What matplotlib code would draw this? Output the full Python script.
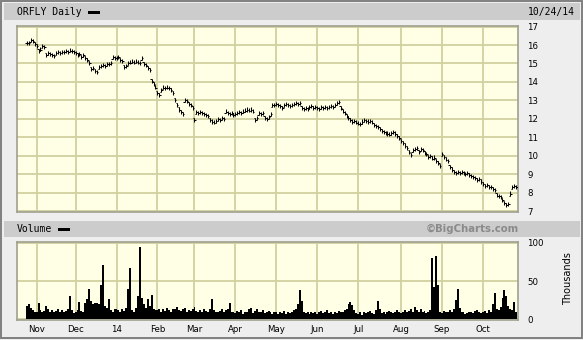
import numpy as np
import pandas as pd
import matplotlib
matplotlib.use('Agg')
import matplotlib.pyplot as plt
from matplotlib.collections import LineCollection
from matplotlib.patches import Rectangle

# ---------------- data ----------------
start_date = '2013-10-25'
end_date = '2014-10-24'
holidays = ['2013-11-28', '2013-12-25', '2014-01-01', '2014-01-20', '2014-02-17',
            '2014-04-18', '2014-05-26', '2014-07-04', '2014-09-01']

close_oct13 = [16.10, 16.12, 16.25, 16.22, 16.05]
close_nov = [15.95, 15.65, 15.75, 15.95, 15.90, 15.45, 15.55, 15.50, 15.45, 15.40,
             15.55, 15.60, 15.55, 15.60, 15.60, 15.65, 15.60, 15.70, 15.65, 15.60]
close_dec = [15.55, 15.45, 15.50, 15.35, 15.45, 15.30, 15.20, 15.00, 14.70, 14.75,
             14.60, 14.55, 14.80, 14.85, 14.90, 14.85, 14.95, 14.95, 15.00, 15.35, 15.30]
close_jan = [15.30, 15.35, 15.20, 15.15, 14.80, 14.85, 15.00, 15.05, 15.10, 15.05,
             15.10, 15.05, 15.00, 15.30, 14.95, 14.90, 14.75, 14.65, 14.05, 13.90, 13.70]
close_feb = [13.40, 13.30, 13.55, 13.70, 13.65, 13.70, 13.65, 13.55, 13.40, 13.00,
             12.75, 12.50, 12.35, 12.25, 13.00, 12.95, 12.80, 12.75, 12.60]
close_mar = [11.95, 12.35, 12.30, 12.35, 12.30, 12.25, 12.20, 12.15, 11.95, 11.85,
             11.80, 11.90, 12.00, 11.95, 12.05, 12.00, 12.40, 12.30, 12.25, 12.30, 12.20]
close_apr = [12.25, 12.30, 12.35, 12.30, 12.40, 12.45, 12.50, 12.45, 12.50, 12.40,
             11.95, 12.05, 12.30, 12.25, 12.30, 12.05, 12.00, 12.10, 12.27, 12.75, 12.75]
close_may = [12.80, 12.75, 12.70, 12.60, 12.75, 12.80, 12.75, 12.70, 12.75, 12.80,
             12.85, 12.80, 12.85, 12.60, 12.55, 12.60, 12.55, 12.65, 12.70, 12.60, 12.65]
close_jun = [12.60, 12.55, 12.65, 12.60, 12.65, 12.60, 12.65, 12.70, 12.65, 12.75,
             12.85, 12.90, 12.60, 12.40, 12.30, 12.15, 12.05, 11.95, 11.85, 11.90, 11.80]
close_jul = [11.75, 11.70, 11.85, 11.95, 11.90, 11.85, 11.90, 11.80, 11.65, 11.60, 11.55,
             11.45, 11.35, 11.30, 11.25, 11.20, 11.15, 11.25, 11.30, 11.20, 11.05, 10.95]
close_aug = [10.80, 10.70, 10.55, 10.40, 10.20, 10.05, 10.30, 10.35, 10.40, 10.20,
             10.35, 10.30, 10.15, 10.10, 9.95, 10.00, 9.85, 9.90, 9.70, 9.60, 9.45]
close_sep = [10.10, 9.95, 9.80, 9.70, 9.40, 9.25, 9.10, 9.05, 9.10, 9.05,
             9.10, 9.05, 9.00, 9.05, 8.95, 8.90, 8.85, 8.80, 8.70, 8.75, 8.60]
close_oct14 = [8.45, 8.35, 8.40, 8.30, 8.30, 8.20, 8.15, 7.85, 7.80, 7.75,
               7.60, 7.45, 7.35, 7.40, 7.95, 8.30, 8.35, 8.30]

vol_oct13 = [18, 20, 15, 12, 9]
vol_nov = [10, 22, 12, 9, 11, 17, 14, 10, 12, 9, 11, 13, 10, 12, 9, 11, 14, 30, 12, 8]
vol_dec = [9, 12, 23, 11, 10, 22, 26, 40, 24, 20, 21, 22, 20, 45, 71, 18, 15, 26, 12, 10, 13]
vol_jan = [14, 12, 10, 13, 11, 15, 40, 67, 12, 10, 15, 30, 94, 28, 20, 15, 27, 18, 32, 14, 12]
vol_feb = [12, 14, 10, 13, 11, 15, 12, 10, 14, 13, 16, 12, 11, 13, 15, 10, 12, 11, 14]
vol_mar = [16, 11, 9, 12, 10, 13, 11, 9, 14, 26, 12, 10, 9, 11, 13, 10, 12, 14, 22, 10, 9]
vol_apr = [8, 11, 9, 12, 7, 10, 9, 13, 15, 8, 11, 14, 10, 9, 12, 8, 10, 11, 9, 7, 10]
vol_may = [9, 7, 10, 8, 11, 7, 9, 8, 10, 12, 14, 20, 38, 24, 10, 8, 9, 7, 10, 8, 9]
vol_jun = [7, 9, 11, 8, 10, 12, 8, 9, 7, 10, 8, 11, 9, 10, 12, 14, 20, 23, 19, 12, 8]
vol_jul = [7, 9, 6, 10, 8, 9, 11, 8, 7, 12, 24, 13, 8, 9, 7, 10, 11, 9, 8, 10, 12, 9]
vol_aug = [8, 10, 12, 9, 11, 13, 10, 16, 12, 10, 14, 9, 11, 8, 10, 12, 80, 42, 83, 45, 10]
vol_sep = [8, 11, 9, 10, 12, 9, 14, 25, 40, 15, 10, 9, 7, 8, 9, 10, 8, 11, 12, 9, 8]
vol_oct14 = [9, 11, 8, 12, 10, 20, 35, 14, 12, 16, 28, 38, 30, 18, 14, 12, 23, 10]

month_labels = ['Nov', 'Dec', '14', 'Feb', 'Mar', 'Apr', 'May', 'Jun', 'Jul', 'Aug', 'Sep', 'Oct']
price_ticks = [7, 8, 9, 10, 11, 12, 13, 14, 15, 16, 17]
vol_ticks = [0, 50, 100]

# ---------------- assemble ----------------
closes = np.array(close_oct13 + close_nov + close_dec + close_jan + close_feb + close_mar +
                  close_apr + close_may + close_jun + close_jul + close_aug + close_sep + close_oct14)
volumes = np.array(vol_oct13 + vol_nov + vol_dec + vol_jan + vol_feb + vol_mar + vol_apr +
                   vol_may + vol_jun + vol_jul + vol_aug + vol_sep + vol_oct14)
dates = pd.bdate_range(start_date, end_date)
dates = dates[~dates.isin(pd.to_datetime(holidays))]
n = len(dates)
closes = closes[:n]
volumes = volumes[:n]
idx = np.arange(len(closes))
prev = np.concatenate([[closes[0]], closes[:-1]])

months = pd.Series(dates.to_period('M'))
month_start = idx[(months != months.shift()).values][1:]

# ---------------- figure ----------------
W, H = 583, 340
fig = plt.figure(figsize=(W / 100, H / 100), dpi=100)
fig.patch.set_facecolor('#eeeeee')


def box(l, t, r, b):
    return [l / W, 1 - b / H, (r - l) / W, (b - t) / H]


def frect(l, t, r, b, **kw):
    fig.add_artist(Rectangle((l / W, 1 - b / H), (r - l) / W, (b - t) / H,
                             transform=fig.transFigure, **kw))


# outer border
frect(0.7, 0.7, W - 1.5, H - 2.5, facecolor='none', edgecolor='#808080', lw=1.4)
# header bars
frect(4, 3.5, 580, 19.5, facecolor='#cccccc', edgecolor='none')
frect(4, 221, 580, 236.5, facecolor='#cccccc', edgecolor='none')

mono = 'DejaVu Sans Mono'
fig.text(17 / W, 1 - 11.8 / H, 'ORFLY Daily', family=mono, fontsize=7, va='center', ha='left')
frect(88, 10.5, 100, 13.5, facecolor='black', edgecolor='none')
fig.text(575 / W, 1 - 11.8 / H, '10/24/14', family=mono, fontsize=7, va='center', ha='right')
fig.text(17 / W, 1 - 228.8 / H, 'Volume', family=mono, fontsize=7, va='center', ha='left')
frect(58, 227.5, 70, 230.5, facecolor='black', edgecolor='none')
fig.text(518.5 / W, 1 - 228.8 / H, '\u00a9BigCharts.com', family='DejaVu Sans', fontsize=7.3,
         fontweight='bold', color='#8a8a8a', va='center', ha='right')

panel_bg = '#ffffe6'
grid_c = '#d0d0a0'
spine_c = '#a0a090'
xlim = (-5.3, n - 1 + 0.7)

# price panel
ax = fig.add_axes(box(16.5, 26, 517.5, 212))
ax.set_facecolor(panel_bg)
ax.set_xlim(*xlim)
ax.set_ylim(6.96, 17.03)
bar_lo, bar_hi = 0.10, 0.12   # visual half-heights of the small daily bar glyphs
segs = []
for i in idx:
    c = closes[i]
    o = min(max(prev[i], c - bar_lo), c + bar_hi)
    segs.append([(i, c - bar_lo), (i, c + bar_hi)])
    segs.append([(i - 0.7, o), (i, o)])
    segs.append([(i, c), (i + 0.7, c)])
ax.add_collection(LineCollection(segs, colors='black', linewidths=0.75, zorder=3))
ax.set_xticks(month_start)
ax.set_xticklabels([])
ax.set_yticks(price_ticks)
ax.yaxis.tick_right()
ax.tick_params(axis='both', length=0)
ax.tick_params(axis='y', pad=7, labelsize=6.2)
ax.grid(True, color=grid_c, lw=1.3, zorder=0)
for s in ax.spines.values():
    s.set_color(spine_c)
    s.set_linewidth(1.2)

# volume panel
av = fig.add_axes(box(16.5, 242, 517.5, 320))
av.set_facecolor(panel_bg)
av.set_xlim(*xlim)
av.set_ylim(-0.8, 101)
av.bar(idx, volumes, width=1.0, color='black', linewidth=0, zorder=3)
av.set_xticks(month_start)
av.set_xticklabels(month_labels, fontsize=6.2)
av.set_yticks(vol_ticks)
av.yaxis.tick_right()
av.tick_params(axis='both', length=0)
av.tick_params(axis='y', pad=7, labelsize=6.2)
av.tick_params(axis='x', pad=3.5)
av.grid(True, color=grid_c, lw=1.3, zorder=0)
for s in av.spines.values():
    s.set_color(spine_c)
    s.set_linewidth(1.2)
fig.text(568 / W, 1 - 279 / H, 'Thousands', rotation=90, fontsize=7, va='center', ha='center')

fig.savefig('out.png', dpi=100, facecolor=fig.get_facecolor())
